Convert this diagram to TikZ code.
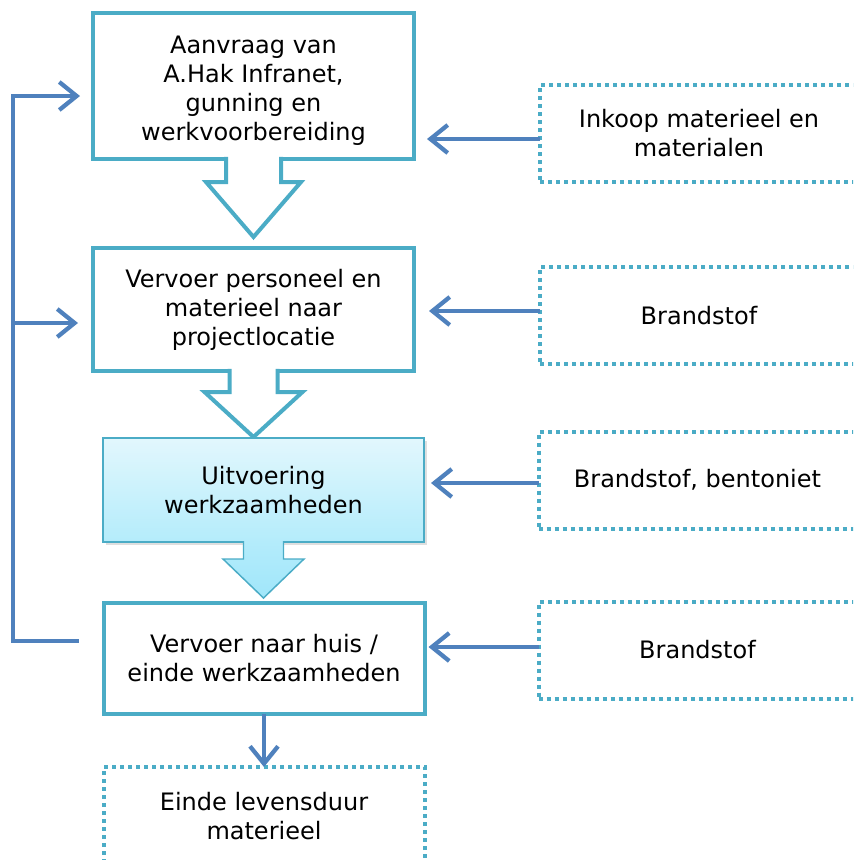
\documentclass[tikz,border=0pt]{standalone}
\usepackage{fontspec}
\setmainfont{DejaVu Sans}
\usetikzlibrary{arrows.meta,calc,positioning,shadows}
\definecolor{tealline}{HTML}{4BACC6}
\definecolor{flowblue}{HTML}{4F81BD}
\definecolor{shadetop}{RGB}{226,247,253}
\definecolor{shadebot}{RGB}{180,236,251}
\definecolor{arrowbot}{RGB}{160,230,250}

\begin{document}
\begin{tikzpicture}[x=0.75pt, y=-0.75pt,
  font=\fontsize{18}{21.75}\selectfont,
  stepmain/.style={rectangle, draw=tealline, line width=3pt, fill=white, align=center, minimum width=240.75pt, outer sep=0pt, inner sep=0pt},
  stepshaded/.style={rectangle, draw=tealline, line width=1.1pt, top color=shadetop, bottom color=shadebot, align=center, minimum width=240.75pt, outer sep=0pt, inner sep=0pt, drop shadow={shadow xshift=2pt, shadow yshift=-2pt, opacity=0.25}},
  inputbox/.style={rectangle, draw=tealline, line width=3pt, dash pattern=on 3pt off 3pt, align=center, minimum width=238.5pt, minimum height=72.75pt, outer sep=0pt, inner sep=0pt},
  blockarrow/.style={draw=tealline, line width=3pt, fill=white, line join=miter},
  blockshaded/.style={draw=tealline, line width=1.1pt, top color=shadebot, bottom color=arrowbot, line join=miter},
  flow/.style={draw=flowblue, line width=3.2pt, line join=miter, -{Straight Barb[length=13pt,width=21pt]}}
]
\useasboundingbox (0,0) rectangle (853,860);
\clip (0,0) rectangle (853,860);

% main steps
\node[stepmain, minimum height=109.5pt] (aanvraag) at (253.5,86) {\rule{0pt}{20.5pt}Aanvraag van\\A.Hak Infranet,\\gunning en\\werkvoorbereiding};
\draw[blockarrow] ($(aanvraag.south)+(-27.5,-2.2)$) -- ++(0,25.2) -- ++(-20,0) -- ($(aanvraag.south)+(0,78)$) -- ($(aanvraag.south)+(47.5,23)$) -- ++(-20,0) -- ++(0,-25.2);

\node[stepmain, minimum height=92.25pt] (vervoer) at (253.5,309.5) {Vervoer personeel en\\materieel naar\\projectlocatie};
\draw[blockarrow] ($(vervoer.south)+(-24,-2.2)$) -- ++(0,23.2) -- ++(-25,0) -- ($(vervoer.south)+(0,66)$) -- ($(vervoer.south)+(49,21)$) -- ++(-25,0) -- ++(0,-23.2);

\node[stepshaded, minimum height=78pt] (uitvoering) at (263.5,490) {Uitvoering\\werkzaamheden};
\draw[blockshaded] ($(uitvoering.south)+(-20,-1)$) -- ++(0,18) -- ++(-20.5,0) -- ($(uitvoering.south)+(0,56)$) -- ($(uitvoering.south)+(40.5,17)$) -- ++(-20.5,0) -- ++(0,-18);

\node[stepmain, minimum height=83.25pt] (huis) at (264,658.5) {Vervoer naar huis /\\einde werkzaamheden};
\node[inputbox, minimum width=240.75pt, minimum height=73.5pt] (levensduur) at (264,816) {Einde levensduur\\materieel};
\draw[flow] (huis.south) -- (levensduur.north);

% inputs
\node[inputbox] (inkoop) at (699,133.5) {Inkoop materieel en\\materialen};
\node[inputbox] (brandstofA) at (699,315.5) {Brandstof};
\node[inputbox] (bentoniet) at (697.5,480) {Brandstof, bentoniet};
\node[inputbox] (brandstofB) at (697.5,650) {Brandstof};

\draw[flow, shorten >=9.75pt] ($(inkoop.west)+(0,5.5)$) coordinate (inkoopout) -- (aanvraag.east |- inkoopout);
\draw[flow, shorten >=11.25pt] ($(brandstofA.west)+(0,-4.5)$) coordinate (brandAout) -- (vervoer.east |- brandAout);
\draw[flow, shorten >=5.25pt] ($(bentoniet.west)+(0,3)$) coordinate (bentout) -- (uitvoering.east |- bentout);
\draw[flow, shorten >=3pt] ($(brandstofB.west)+(0,-3)$) coordinate (brandBout) -- (huis.east |- brandBout);

% feedback loop
\coordinate (looptop) at (13,96);
\coordinate (loopmid) at (13,323);
\coordinate (loopbot) at (13,641);
\draw[flow, shorten <=18.75pt, shorten >=9.75pt] (loopbot -| huis.west) -- (loopbot) -- (looptop) -- (looptop -| aanvraag.west);
\draw[flow, shorten >=11.25pt] (loopmid) -- (loopmid -| vervoer.west);
\end{tikzpicture}
\end{document}
